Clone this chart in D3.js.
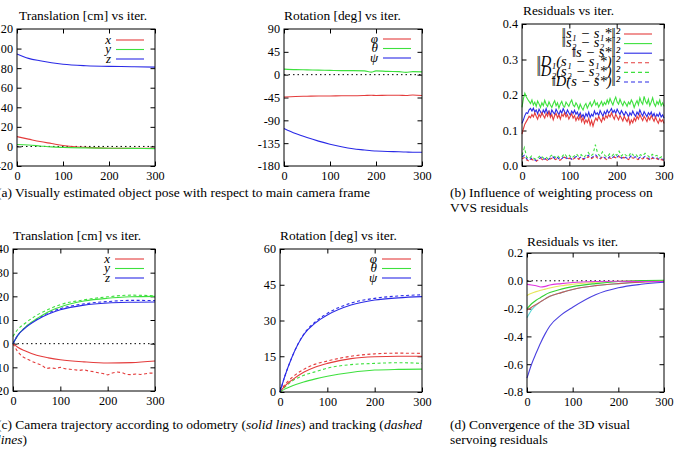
<!DOCTYPE html>
<html>
<head>
<meta charset="utf-8">
<script src="https://cdn.jsdelivr.net/npm/d3@7"></script>
<style>
  body { margin: 0; background: #fff; }
  svg { display: block; font-family: "Liberation Serif", "Times New Roman", serif; }
</style>
</head>
<body>
<svg id="fig" width="682" height="457"></svg>
<script>
// ---- (a) object pose, main camera frame ----
const iterA = [0, 25, 50, 75, 100, 150, 200, 250, 300];
const poseTx = [10, 7.5, 5, 3, 1, -1, -1.8, -2, -2];
const poseTy = [2, 1.5, 0.5, -0.5, -1, -1.5, -1.8, -2, -2.2];
const poseTz = [94.5, 90, 87.5, 85.5, 84, 82.5, 81.8, 81.5, 81];

const iterARot = [0, 25, 50, 75, 100, 125, 150, 175, 190, 200, 225, 250, 265, 280, 300];
const posePhi = [-44, -43, -42.5, -42, -42, -41.5, -41.5, -41, -40.5, -41, -40.5, -40.5, -41, -40, -41];
const poseTheta = [11, 10, 9.5, 9, 8.5, 8, 8, 7.5, 5, 7.5, 6.5, 6, 4.5, 6, 5.5];
const posePsi = [-106, -116, -124, -131, -137, -142, -146, -148.5, -150, -150.5, -151.5, -152, -152.5, -153, -153];

// ---- (b) VVS residuals ----
const iterB = d3.range(0, 301, 3);
const resS1 = [.09, .105, .118, .125, .132, .14, .136, .145, .138, .15,
  .14, .132, .146, .138, .15, .142, .135, .148, .14, .153,
  .137, .145, .13, .142, .148, .136, .144, .132, .146, .14,
  .15, .138, .145, .132, .14, .147, .135, .142, .128, .138,
  .13, .142, .125, .136, .12, .13, .122, .134, .115, .128,
  .112, .126, .135, .128, .14, .132, .124, .138, .13, .142,
  .135, .145, .138, .15, .14, .132, .146, .138, .13, .142,
  .135, .127, .14, .132, .125, .137, .118, .13, .122, .135,
  .127, .14, .132, .145, .136, .128, .14, .133, .125, .138,
  .13, .142, .134, .126, .138, .128, .12, .133, .125, .13,
  .12];
const resS2 = [.165, .19, .205, .195, .188, .182, .176, .186, .172, .18,
  .168, .183, .175, .165, .178, .17, .185, .174, .168, .181,
  .172, .165, .176, .184, .17, .178, .163, .175, .182, .17,
  .166, .18, .174, .168, .179, .186, .172, .167, .178, .171,
  .16, .174, .165, .158, .17, .176, .163, .172, .18, .168,
  .175, .185, .172, .178, .166, .174, .182, .17, .179, .173,
  .186, .176, .19, .18, .172, .185, .194, .18, .174, .188,
  .178, .17, .182, .176, .168, .18, .174, .186, .178, .165,
  .176, .184, .172, .192, .18, .174, .196, .182, .175, .188,
  .17, .18, .192, .176, .168, .182, .174, .186, .17, .178,
  .168];
const resS = [.12, .13, .142, .15, .148, .158, .162, .155, .163, .152,
  .158, .147, .16, .153, .145, .158, .15, .162, .148, .155,
  .143, .158, .151, .146, .16, .152, .144, .156, .149, .162,
  .153, .146, .158, .15, .143, .155, .148, .157, .146, .152,
  .14, .15, .138, .145, .135, .148, .14, .152, .137, .146,
  .14, .155, .145, .15, .142, .156, .148, .14, .153, .146,
  .158, .149, .155, .162, .15, .157, .148, .16, .152, .145,
  .156, .149, .142, .153, .147, .138, .15, .143, .155, .146,
  .14, .152, .145, .158, .148, .141, .153, .146, .139, .15,
  .144, .152, .14, .148, .136, .146, .14, .15, .138, .144,
  .135];

const iterBw = d3.range(0, 301, 5);
const resD1 = [.02, .024, .017, .014, .019, .016, .013, .018, .021, .016,
  .019, .015, .02, .023, .018, .021, .016, .02, .025, .019,
  .022, .017, .021, .024, .019, .023, .018, .021, .026, .02,
  .023, .028, .022, .019, .025, .021, .017, .023, .02, .025,
  .022, .027, .02, .024, .021, .018, .025, .022, .023, .018,
  .022, .02, .024, .021, .017, .022, .019, .021, .016, .018,
  .015];
const resD2 = [.03, .052, .025, .02, .028, .022, .018, .025, .03, .022,
  .026, .02, .028, .032, .024, .03, .022, .027, .035, .025,
  .03, .022, .028, .034, .026, .032, .024, .03, .038, .028,
  .033, .06, .035, .028, .04, .03, .025, .034, .028, .036,
  .03, .042, .028, .035, .03, .026, .038, .03, .034, .025,
  .032, .028, .036, .03, .024, .033, .027, .03, .022, .026,
  .02];
const resD = [.025, .03, .02, .016, .022, .018, .015, .02, .024, .018,
  .021, .017, .023, .026, .02, .024, .018, .022, .028, .021,
  .025, .019, .023, .027, .021, .026, .02, .024, .03, .022,
  .026, .032, .025, .021, .028, .023, .019, .026, .022, .028,
  .024, .03, .022, .027, .023, .02, .028, .024, .026, .02,
  .025, .022, .027, .023, .019, .025, .021, .023, .018, .02,
  .016];

// ---- (c) camera trajectory: odometry (solid) and tracking (dashed) ----
const iterC = [0, 10, 25, 50, 75, 100, 150, 200, 250, 300];
const odoTx = [0, -1.5, -3, -4.9, -6, -6.8, -7.7, -8.2, -8, -7.3];
const odoTy = [0, 3.5, 6.8, 10.5, 13.5, 15.5, 18, 19.2, 19.8, 20];
const odoTz = [0, 3.5, 6.5, 10, 12.5, 14.3, 16.3, 17.2, 17.5, 17.6];
const trkTy = [3, 6, 8.5, 12, 14.5, 16.5, 18.5, 19.8, 20.5, 20.2];
const trkTz = [0, 3.5, 6.7, 10.3, 13, 14.8, 16.8, 17.8, 18.3, 18.2];
const iterCx = d3.range(0, 301, 10);
const trkTx = [0, -3.5, -5.5, -6.5, -7.5, -8.3, -9, -10.5, -10.2, -10.5,
  -10, -10.6, -10.8, -11, -11.3, -11, -11.6, -11.8, -12.3, -12.6,
  -13.2, -12.4, -12, -12.2, -13, -13.1, -12.8, -13, -12.7, -12.4, -12.5];

const odoPhi = [0, 2.5, 5, 8.3, 10.5, 12, 14, 14.8, 15, 15];
const odoTheta = [0, 1.2, 2.5, 4.2, 5.5, 6.6, 8.2, 9.2, 9.5, 9.6];
const odoPsi = [0, 6.5, 14.5, 24, 29, 32.3, 36.5, 38.6, 39.5, 40];
const trkPhi = [0, 3, 6, 9.5, 11.7, 13, 15, 16, 16.3, 16.2];
const trkTheta = [0, 2, 4.5, 7, 8.5, 10, 11.5, 12, 12.3, 12];
const trkPsi = [0, 6.5, 14.5, 24.2, 29.5, 33, 37.3, 39.3, 40.3, 40.8];

// ---- (d) 3D visual servoing residuals ----
const iterD = [0, 10, 20, 30, 40, 50, 75, 100, 150, 200, 250, 300];
const errMagenta = [-0.025, -0.03, -0.035, -0.045, -0.04, -0.03, -0.02, -0.012, -0.005, -0.003, -0.005, -0.005];
const errYellow = [-0.105, -0.09, -0.078, -0.068, -0.06, -0.052, -0.036, -0.025, -0.01, -0.003, 0, 0.002];
const errGreen = [-0.2, -0.165, -0.14, -0.12, -0.1, -0.085, -0.06, -0.042, -0.02, -0.005, 0.002, 0.004];
const errCyan = [-0.265, -0.21, -0.175, -0.15, -0.13, -0.112, -0.085, -0.062, -0.035, -0.02, -0.008, 0];
const errRed = [-0.21, -0.19, -0.17, -0.15, -0.13, -0.112, -0.085, -0.062, -0.035, -0.02, -0.01, -0.005];
const errBlue = [-0.7, -0.6, -0.52, -0.445, -0.38, -0.325, -0.245, -0.19, -0.1, -0.05, -0.025, -0.01];

const RED = "#e43c3c", GREEN = "#3ee03e", BLUE = "#2a2ae6";

const svg = d3.select("#fig");
const serif = '"Liberation Serif", "Times New Roman", serif';

function panel(p) {
    const g = svg.append("g").attr("transform", "translate(" + p.left + "," + p.top + ")");
    const x = d3.scaleLinear().domain([0, 300]).range([0, p.w]);
    const y = d3.scaleLinear().domain(p.yDomain).range([p.h, 0]);
    const fmt = p.fmt || (d => String(d));
    const xt = [0, 100, 200, 300];

    // axes, gnuplot style: inward ticks on all four sides
    const style = a => {
        a.select(".domain").remove();
        a.selectAll("line").attr("stroke", "#000");
        a.selectAll("text").attr("font-family", serif).attr("font-size", 12.2).attr("fill", "#000");
    };
    g.append("g").attr("transform", "translate(0," + p.h + ")")
        .call(d3.axisBottom(x).tickValues(xt).tickSize(-4.5).tickPadding(5)).call(style);
    g.append("g").call(d3.axisTop(x).tickValues(xt).tickSize(-4.5).tickFormat("")).call(style);
    g.append("g").call(d3.axisLeft(y).tickValues(p.yTicks).tickSize(-4.5).tickPadding(4).tickFormat(fmt)).call(style);
    g.append("g").attr("transform", "translate(" + p.w + ",0)")
        .call(d3.axisRight(y).tickValues(p.yTicks).tickSize(-4.5).tickFormat("")).call(style);

    if (p.zero) {
        g.append("line").attr("x1", 0).attr("x2", p.w).attr("y1", y(0)).attr("y2", y(0))
            .attr("stroke", "#000").attr("stroke-width", 1).attr("stroke-dasharray", "1.5,3");
    }

    p.series.forEach(s => {
        const line = d3.line()
            .x((d, i) => x(s.iter[i]))
            .y(d => y(d))
            .curve(s.smooth ? d3.curveMonotoneX : d3.curveLinear);
        g.append("path").datum(s.values)
            .attr("fill", "none").attr("stroke", s.color).attr("stroke-width", 1.1)
            .attr("stroke-dasharray", s.dash ? "3,2.5" : null)
            .attr("d", line);
    });

    g.append("rect").attr("width", p.w).attr("height", p.h)
        .attr("fill", "none").attr("stroke", "#000").attr("stroke-width", 1);

    svg.append("text").attr("x", p.titleX).attr("y", p.titleY)
        .attr("font-size", 13.4).text(p.title);
}

function legend(items, lx, x1, x2, y0, dy, size) {
    items.forEach((it, i) => {
        const yy = y0 + i * dy;
        svg.append("text").attr("x", lx).attr("y", yy + 3.5)
            .attr("text-anchor", "end").attr("font-style", "italic")
            .attr("font-size", size).text(it.label);
        svg.append("line").attr("x1", x1).attr("x2", x2).attr("y1", yy).attr("y2", yy)
            .attr("stroke", it.color).attr("stroke-width", 1.1)
            .attr("stroke-dasharray", it.dash ? "4,3" : null);
    });
}

// (a) left: translation
panel({
    left: 17, top: 29, w: 138, h: 137, yDomain: [-20, 120], yTicks: d3.range(-20, 121, 20),
    zero: true, title: "Translation [cm] vs iter.", titleX: 19, titleY: 20,
    series: [
        {iter: iterA, values: poseTx, color: RED, smooth: true},
        {iter: iterA, values: poseTy, color: GREEN, smooth: true},
        {iter: iterA, values: poseTz, color: BLUE, smooth: true}
    ]
});
legend([{label: "x", color: RED}, {label: "y", color: GREEN}, {label: "z", color: BLUE}],
    111, 116, 144, 40, 9.5, 13);

// (a) middle: rotation
panel({
    left: 284, top: 29, w: 138, h: 137, yDomain: [-180, 90], yTicks: d3.range(-180, 91, 45),
    zero: true, title: "Rotation [deg] vs iter.", titleX: 284, titleY: 20,
    series: [
        {iter: iterARot, values: posePhi, color: RED, smooth: true},
        {iter: iterARot, values: poseTheta, color: GREEN, smooth: true},
        {iter: iterARot, values: posePsi, color: BLUE, smooth: true}
    ]
});
legend([{label: "φ", color: RED}, {label: "θ", color: GREEN}, {label: "ψ", color: BLUE}],
    378, 383, 411, 39, 9.5, 13);

// (b) residuals with / without weighting
panel({
    left: 522, top: 24, w: 142, h: 142, yDomain: [0, 0.4], yTicks: [0, 0.1, 0.2, 0.3, 0.4],
    fmt: d => d.toFixed(1), title: "Residuals vs iter.", titleX: 523, titleY: 15,
    series: [
        {iter: iterBw, values: resD2, color: GREEN, dash: true},
        {iter: iterBw, values: resD, color: BLUE, dash: true},
        {iter: iterBw, values: resD1, color: RED, dash: true},
        {iter: iterB, values: resS2, color: GREEN},
        {iter: iterB, values: resS, color: BLUE},
        {iter: iterB, values: resS1, color: RED}
    ]
});
legend([
    {label: "‖s₁ − s₁*‖²", color: RED},
    {label: "‖s₂ − s₂*‖²", color: GREEN},
    {label: "‖s − s*‖²", color: BLUE},
    {label: "‖D₁(s₁ − s₁*)‖²", color: RED, dash: true},
    {label: "‖D₂(s₂ − s₂*)‖²", color: GREEN, dash: true},
    {label: "‖D(s − s*)‖²", color: BLUE, dash: true}
], 620, 624, 652, 34, 9.6, 14.5);

// (c) left: camera translation
panel({
    left: 13, top: 249, w: 142, h: 142, yDomain: [-20, 40], yTicks: d3.range(-20, 41, 10),
    zero: true, title: "Translation [cm] vs iter.", titleX: 13, titleY: 240,
    series: [
        {iter: iterCx, values: trkTx, color: RED, dash: true},
        {iter: iterC, values: trkTy, color: GREEN, dash: true, smooth: true},
        {iter: iterC, values: trkTz, color: BLUE, dash: true, smooth: true},
        {iter: iterC, values: odoTx, color: RED, smooth: true},
        {iter: iterC, values: odoTy, color: GREEN, smooth: true},
        {iter: iterC, values: odoTz, color: BLUE, smooth: true}
    ]
});
legend([{label: "x", color: RED}, {label: "y", color: GREEN}, {label: "z", color: BLUE}],
    110, 115, 144, 259, 9.5, 13);

// (c) middle: camera rotation
panel({
    left: 280, top: 249, w: 142, h: 143, yDomain: [0, 60], yTicks: d3.range(0, 61, 15),
    title: "Rotation [deg] vs iter.", titleX: 280, titleY: 240,
    series: [
        {iter: iterC, values: trkPhi, color: RED, dash: true, smooth: true},
        {iter: iterC, values: trkTheta, color: GREEN, dash: true, smooth: true},
        {iter: iterC, values: trkPsi, color: BLUE, dash: true, smooth: true},
        {iter: iterC, values: odoPhi, color: RED, smooth: true},
        {iter: iterC, values: odoTheta, color: GREEN, smooth: true},
        {iter: iterC, values: odoPsi, color: BLUE, smooth: true}
    ]
});
legend([{label: "φ", color: RED}, {label: "θ", color: GREEN}, {label: "ψ", color: BLUE}],
    377, 382, 411, 259, 9.5, 13);

// (d) servoing residuals
panel({
    left: 527, top: 253, w: 137, h: 139, yDomain: [-0.8, 0.2], yTicks: [-0.8, -0.6, -0.4, -0.2, 0, 0.2],
    fmt: d => d.toFixed(1), zero: true, title: "Residuals vs iter.", titleX: 527, titleY: 246,
    series: [
        {iter: iterD, values: errCyan, color: "#58d8d8", smooth: true},
        {iter: iterD, values: errRed, color: "#c45a5a", smooth: true},
        {iter: iterD, values: errYellow, color: "#e6e65a", smooth: true},
        {iter: iterD, values: errGreen, color: "#34d034", smooth: true},
        {iter: iterD, values: errMagenta, color: "#e034e0", smooth: true},
        {iter: iterD, values: errBlue, color: "#4a40e0", smooth: true}
    ]
});

// sub-figure captions
const cap = [
    {x: -3, y: 197, parts: [["(a) Visually estimated object pose with respect to main camera frame"]]},
    {x: 450, y: 197, parts: [["(b) Influence of weighting process on"]]},
    {x: 450, y: 212, parts: [["VVS residuals"]]},
    {x: -3, y: 429, parts: [["(c) Camera trajectory according to odometry ("], ["solid lines", 1], [") and tracking ("], ["dashed", 1]]},
    {x: -3, y: 444, parts: [["lines", 1], [")"]]},
    {x: 450, y: 429, parts: [["(d) Convergence of the 3D visual"]]},
    {x: 450, y: 444, parts: [["servoing residuals"]]}
];
cap.forEach(c => {
    const t = svg.append("text").attr("x", c.x).attr("y", c.y).attr("font-size", 13.5);
    c.parts.forEach(p => t.append("tspan").attr("font-style", p[1] ? "italic" : null).text(p[0]));
});
</script>
</body>
</html>
